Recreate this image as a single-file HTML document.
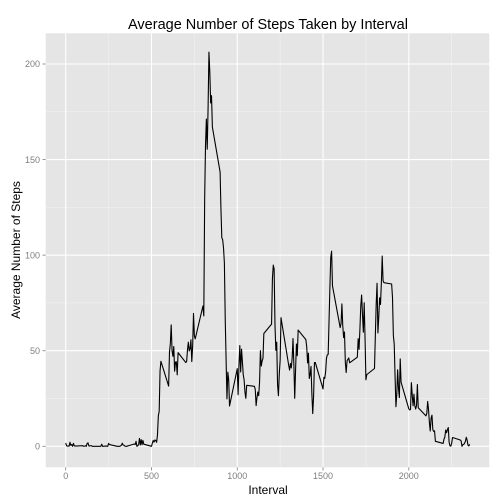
<!DOCTYPE html>
<html><head><meta charset="utf-8"><style>
body{margin:0;background:#fff}
svg{display:block;font-family:"Liberation Sans",sans-serif}
</style></head><body>
<svg id="chart" width="504" height="504">
<rect x="0" y="0" width="504" height="504" fill="#fff"/>
<rect x="45.7" y="33.3" width="443.6" height="434" fill="#e5e5e5"/>
<g id="grid"></g><g id="ticks"></g>
<path id="line" fill="none" stroke="#000" stroke-width="1.1" stroke-linejoin="round"/>
<text x="268" y="29" font-size="14.5" text-anchor="middle">Average Number of Steps Taken by Interval</text>
<text x="268" y="494" font-size="12" text-anchor="middle">Interval</text>
<text transform="translate(20,250) rotate(-90)" font-size="12" text-anchor="middle">Average Number of Steps</text>
</svg>
<script>
const intervals=[0,5,10,15,20,25,30,35,40,45,50,55,100,105,110,115,120,125,130,135,140,145,150,155,200,205,210,215,220,225,230,235,240,245,250,255,300,305,310,315,320,325,330,335,340,345,350,355,400,405,410,415,420,425,430,435,440,445,450,455,500,505,510,515,520,525,530,535,540,545,550,555,600,605,610,615,620,625,630,635,640,645,650,655,700,705,710,715,720,725,730,735,740,745,750,755,800,805,810,815,820,825,830,835,840,845,850,855,900,905,910,915,920,925,930,935,940,945,950,955,1000,1005,1010,1015,1020,1025,1030,1035,1040,1045,1050,1055,1100,1105,1110,1115,1120,1125,1130,1135,1140,1145,1150,1155,1200,1205,1210,1215,1220,1225,1230,1235,1240,1245,1250,1255,1300,1305,1310,1315,1320,1325,1330,1335,1340,1345,1350,1355,1400,1405,1410,1415,1420,1425,1430,1435,1440,1445,1450,1455,1500,1505,1510,1515,1520,1525,1530,1535,1540,1545,1550,1555,1600,1605,1610,1615,1620,1625,1630,1635,1640,1645,1650,1655,1700,1705,1710,1715,1720,1725,1730,1735,1740,1745,1750,1755,1800,1805,1810,1815,1820,1825,1830,1835,1840,1845,1850,1855,1900,1905,1910,1915,1920,1925,1930,1935,1940,1945,1950,1955,2000,2005,2010,2015,2020,2025,2030,2035,2040,2045,2050,2055,2100,2105,2110,2115,2120,2125,2130,2135,2140,2145,2150,2155,2200,2205,2210,2215,2220,2225,2230,2235,2240,2245,2250,2255,2300,2305,2310,2315,2320,2325,2330,2335,2340,2345,2350,2355];
const steps=[1.7,0.3,0.1,0.2,0.1,2.1,0.5,0.9,0,1.5,0.3,0.1,0.3,0,0.1,0.3,0,1.5,1.8,0.2,0.2,0.3,0.3,0,0,0,1.1,0,0,0.1,0,0.2,0,0,1.5,0.9,0,0,0,0,0.2,0.6,1.6,0.6,0.5,0.1,0,0,1.2,0.9,2.6,0,0.3,0.9,4.1,0.7,3.5,0.8,3.1,1.1,0,1.6,3,2.2,3.3,3,2.1,6,16,18.3,39.5,44.5,31.5,49.3,53.8,63.5,50,47.1,52.2,39.3,44,44.2,37.4,49,43.8,44.4,50.5,54.5,49.9,51,55.7,44.3,52.3,69.5,57.8,56.2,73.4,68.2,129.4,157.5,171.2,155.4,177.3,206.2,195.9,179.6,183.4,167,143.5,124,109.1,108.1,103.7,96,66.2,45.2,24.8,38.8,35,21.1,40.6,27,42.4,52.7,38.9,50.8,44.3,37.4,34.7,28.3,25.1,31.9,31.4,29.7,21.3,25.5,28.4,26.5,33.4,50,42,44.6,46,59,63.9,87.7,94.8,92.8,63.4,50.2,54.5,32.4,26.5,37.7,45,67.3,42.3,39.9,43.3,41,46.2,56.4,42.8,25.1,40,53.5,47.4,60.8,55.8,52,43.6,48.7,35.5,37.5,41.8,27.5,17.1,26.1,43.8,43.8,30,36.1,35.5,38.8,46,47.8,48.1,65.3,82.9,98.7,102.1,84,62.1,64.1,74.5,63.2,56.9,59.8,43.9,38.6,44.7,45.5,46.2,43.7,46.6,56.3,50.7,61.2,73.4,79.1,68.9,59.7,75.1,56.5,34.8,37.5,40.7,58,74.7,85.3,59.3,67.8,77.7,74.2,85.3,99.5,86.6,85.6,84.9,77.8,58,53.4,36.3,20.7,27.4,40,30.2,25.5,45.7,33.5,19.6,19,19.3,33.3,26.8,21.2,27.3,21.3,19.5,21.3,32.3,20.2,15.9,17.2,23.5,19.2,12.5,8,14.7,16.3,8.7,7.8,8.1,2.6,1.5,3.7,4.8,8.5,7.1,8.7,9.8,2.2,0.3,0.1,1.6,4.6,3.3,2.8,0,0.8,1,1.6,2.6,4.7,3.3,0.6,0.2,1.1];
const xTicks=[0,500,1000,1500,2000];
const yTicks=[0,50,100,150,200];
const xMinor=[250,750,1250,1750,2250];
const yMinor=[25,75,125,175];
const X=v=>65.7+v*0.17155, Y=v=>446.3-v*1.9115;
const NS='http://www.w3.org/2000/svg';
const grid=document.getElementById('grid'), ticks=document.getElementById('ticks');
function ln(p,x1,y1,x2,y2,c,w){const l=document.createElementNS(NS,'line');l.setAttribute('x1',x1);l.setAttribute('y1',y1);l.setAttribute('x2',x2);l.setAttribute('y2',y2);l.setAttribute('stroke',c);l.setAttribute('stroke-width',w);p.appendChild(l);return l;}
function tx(p,x,y,s,a){const t=document.createElementNS(NS,'text');t.setAttribute('x',x);t.setAttribute('y',y);t.setAttribute('font-size','9');t.setAttribute('fill','#7f7f7f');t.setAttribute('text-anchor',a);t.textContent=s;p.appendChild(t);return t;}
xMinor.forEach(v=>{const l=ln(grid,X(v),33.3,X(v),467.3,'#f2f2f2',0.6);

});
yMinor.forEach(v=>{const l=ln(grid,45.7,Y(v),489.3,Y(v),'#f2f2f2',0.6);

});
xTicks.forEach(v=>{const l=ln(grid,X(v),33.3,X(v),467.3,'#fff',1.1);


const t=ln(ticks,X(v),467.3,X(v),470.5,'#7f7f7f',0.8);


const s=tx(ticks,X(v),479,String(v),'middle');

});
yTicks.forEach(v=>{const l=ln(grid,45.7,Y(v),489.3,Y(v),'#fff',1.1);


const t=ln(ticks,42.5,Y(v),45.7,Y(v),'#7f7f7f',0.8);


const s=tx(ticks,40,Y(v)+3.2,String(v),'end');

});
document.getElementById('line').setAttribute('d',intervals.map((v,i)=>(i?'L':'M')+X(v).toFixed(2)+','+Y(steps[i]).toFixed(2)).join(''));
</script>
</body></html>
